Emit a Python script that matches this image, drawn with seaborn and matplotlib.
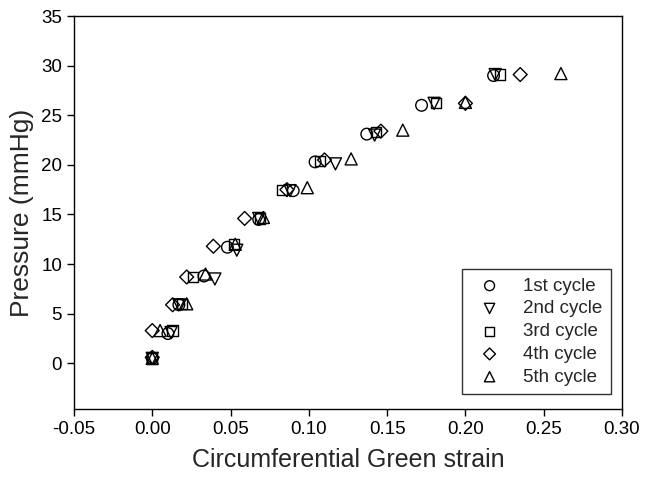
import matplotlib
matplotlib.use("Agg")
import matplotlib.pyplot as plt
import seaborn as sns
import pandas as pd

cycles = ["1st cycle", "2nd cycle", "3rd cycle", "4th cycle", "5th cycle"]

strain_c1 = [0.000, 0.010, 0.017, 0.033, 0.048, 0.068, 0.090, 0.104, 0.137, 0.172, 0.218]
press_c1 = [0.5, 3.0, 5.9, 8.8, 11.7, 14.5, 17.4, 20.3, 23.1, 26.0, 29.0]

strain_c2 = [0.000, 0.012, 0.017, 0.040, 0.054, 0.068, 0.088, 0.117, 0.142, 0.180, 0.219]
press_c2 = [0.5, 3.1, 5.9, 8.5, 11.4, 14.6, 17.4, 20.1, 23.0, 26.2, 29.1]

strain_c3 = [0.000, 0.013, 0.019, 0.026, 0.052, 0.069, 0.083, 0.107, 0.143, 0.181, 0.222]
press_c3 = [0.5, 3.3, 6.0, 8.7, 12.0, 14.6, 17.5, 20.4, 23.3, 26.2, 29.1]

strain_c4 = [0.000, 0.000, 0.013, 0.022, 0.039, 0.059, 0.086, 0.110, 0.146, 0.200, 0.235]
press_c4 = [0.6, 3.3, 5.9, 8.7, 11.8, 14.6, 17.5, 20.5, 23.4, 26.2, 29.1]

strain_c5 = [0.000, 0.005, 0.022, 0.034, 0.053, 0.071, 0.099, 0.127, 0.160, 0.200, 0.261]
press_c5 = [0.5, 3.3, 6.0, 9.0, 12.0, 14.7, 17.7, 20.6, 23.5, 26.3, 29.2]

x_ticks = [-0.05, 0.00, 0.05, 0.10, 0.15, 0.20, 0.25, 0.30]
y_ticks = [0, 5, 10, 15, 20, 25, 30, 35]

strains = [strain_c1, strain_c2, strain_c3, strain_c4, strain_c5]
pressures = [press_c1, press_c2, press_c3, press_c4, press_c5]
rows = []
for c, xs, ys in zip(cycles, strains, pressures):
    for x, y in zip(xs, ys):
        rows.append({"strain": x, "pressure": y, "cycle": c})
df = pd.DataFrame(rows)

sns.set_style("ticks")
plt.rcParams["font.family"] = ["Liberation Sans", "DejaVu Sans"]

fig = plt.figure(figsize=(6.45, 4.78), dpi=100)
ax = fig.add_axes([0.1147, 0.1444, 0.9643 - 0.1147, 0.9665 - 0.1444])

markers = {"1st cycle": "o", "2nd cycle": "v", "3rd cycle": "s",
           "4th cycle": "D", "5th cycle": "^"}
sizes_m = {"1st cycle": 70, "2nd cycle": 75, "3rd cycle": 55,
           "4th cycle": 50, "5th cycle": 75}

for c in cycles:
    sub = df[df["cycle"] == c]
    sns.scatterplot(data=sub, x="strain", y="pressure", marker=markers[c],
                    s=sizes_m[c], facecolor="none", edgecolor="black",
                    linewidth=1.0, ax=ax, label=c, legend=False)

ax.set_xlim(-0.05, 0.30)
ax.set_ylim(-4.6, 35)
ax.set_xticks(x_ticks)
ax.set_xticklabels([f"{t:.2f}" for t in x_ticks])
ax.set_yticks(y_ticks)
ax.tick_params(axis="both", direction="out", length=5, width=1,
               labelsize=13.5, colors="black")
for sp in ax.spines.values():
    sp.set_visible(True)
    sp.set_color("black")
    sp.set_linewidth(1.0)

ax.set_xlabel("Circumferential Green strain", fontsize=18, labelpad=7)
ax.set_ylabel("Pressure (mmHg)", fontsize=19, labelpad=5)

handles, labels = ax.get_legend_handles_labels()
leg = ax.legend(handles, labels, loc="lower right", bbox_to_anchor=(0.98, 0.038),
                frameon=True, fancybox=False, fontsize=13.5, handletextpad=0.8,
                labelspacing=0.3, borderpad=0.45, borderaxespad=0.0,
                handlelength=2.0, markerscale=0.85)
leg.get_frame().set_edgecolor("black")
leg.get_frame().set_linewidth(1.0)

fig.savefig("out.png", dpi=100)
